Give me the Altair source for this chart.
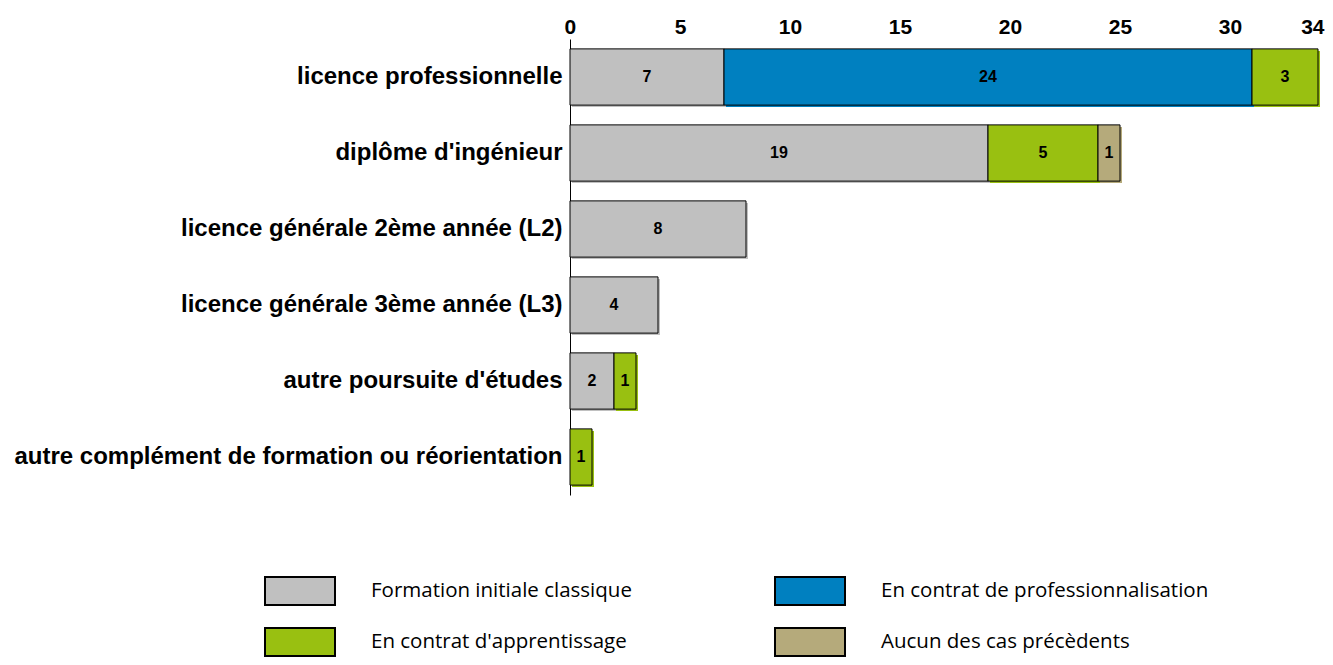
import altair as alt
import pandas as pd

categories = [
    "licence professionnelle",
    "diplôme d'ingénieur",
    "licence générale 2ème année (L2)",
    "licence générale 3ème année (L3)",
    "autre poursuite d'études",
    "autre complément de formation ou réorientation",
]
statuses = [
    "Formation initiale classique",
    "En contrat de professionnalisation",
    "En contrat d'apprentissage",
    "Aucun des cas précèdents",
]
colors = ["#C0C0C0", "#0080C0", "#99C011", "#B5AA7B"]
initiale = [7, 19, 8, 4, 2, 0]
professionnalisation = [24, 0, 0, 0, 0, 0]
apprentissage = [3, 5, 0, 0, 1, 1]
aucun = [0, 1, 0, 0, 0, 0]
x_ticks = [0, 5, 10, 15, 20, 25, 30, 34]

series = [initiale, professionnalisation, apprentissage, aucun]
rows = []
for si, (status, vals) in enumerate(zip(statuses, series)):
    for cat, v in zip(categories, vals):
        if v > 0:
            rows.append({"cat": cat, "status": status, "ord": si, "value": v})
df = pd.DataFrame(rows)

# legend fills column by column: order the domain so rows read left to right
legend_idx = [0, 2, 1, 3]
legend_domain = [statuses[i] for i in legend_idx]
legend_range = [colors[i] for i in legend_idx]

base = alt.Chart(df)

y_enc = alt.Y(
    "cat:N",
    sort=categories,
    scale=alt.Scale(paddingInner=0.26, paddingOuter=0.13),
    axis=alt.Axis(
        title=None,
        orient="left",
        domain=True,
        domainColor="black",
        domainWidth=1,
        ticks=False,
        labelFont="Liberation Sans",
        labelFontSize=24,
        labelFontWeight="bold",
        labelColor="black",
        labelPadding=8,
        labelLimit=700,
    ),
)
x_scale = alt.Scale(domain=[0, 34], nice=False, zero=True)
x_axis = alt.Axis(
    title=None,
    orient="top",
    values=x_ticks,
    domain=False,
    ticks=False,
    grid=False,
    labelFont="Liberation Sans",
    labelFontSize=21,
    labelFontWeight="bold",
    labelColor="black",
    labelPadding=2,
    labelFlush=True,
    labelFlushOffset=6,
)
legend = alt.Legend(
    title=None,
    orient="none",
    legendX=-285,
    legendY=537,
    columns=2,
    columnPadding=139,
    rowPadding=15,
    padding=0,
    symbolType="M-2.5,-1H2.5V1H-2.5Z",
    symbolSize=784,
    symbolStrokeColor="black",
    symbolStrokeWidth=2,
    symbolOpacity=1,
    labelFont="Open Sans",
    labelFontSize=20.5,
    labelColor="black",
    labelOffset=56,
    labelLimit=600,
)
color_enc = alt.Color(
    "status:N", scale=alt.Scale(domain=legend_domain, range=legend_range), legend=legend
)

shadow = base.mark_bar(xOffset=2, yOffset=2).encode(
    x=alt.X("value:Q", stack="zero", scale=x_scale, axis=x_axis),
    y=y_enc,
    color=color_enc,
    order=alt.Order("ord:Q"),
)

bars = base.mark_bar(stroke="black", strokeWidth=1, opacity=1).encode(
    x=alt.X("value:Q", stack="zero", scale=x_scale, axis=x_axis),
    y=y_enc,
    color=color_enc,
    order=alt.Order("ord:Q"),
)

labels = (
    base.transform_stack(
        stack="value", as_=["x0", "x1"], groupby=["cat"], sort=[alt.SortField("ord")]
    )
    .transform_calculate(mid="(datum.x0 + datum.x1) / 2")
    .mark_text(font="Liberation Sans", fontSize=16, fontWeight="bold", color="black")
    .encode(
        x=alt.X("mid:Q", scale=x_scale, axis=x_axis),
        y=y_enc,
        text=alt.Text("value:Q"),
    )
)

chart = (
    alt.layer(shadow, bars, labels)
    .properties(
        width=748,
        height=456,
        autosize=alt.AutoSizeParams(type="none"),
        padding={"left": 562, "top": 31, "right": 7, "bottom": 162},
        background="white",
    )
    .configure_view(stroke=None)
)

chart.save("out.html", embed_options={"renderer": "svg", "actions": False})
